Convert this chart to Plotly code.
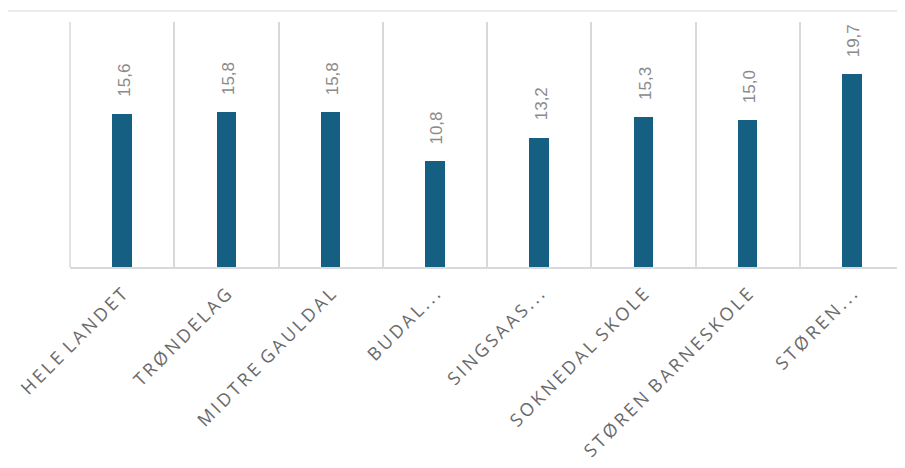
import plotly.graph_objects as go

categories = ["HELE LANDET", "TRØNDELAG", "MIDTRE GAULDAL", "BUDAL...", "SINGSAAS...",
              "SOKNEDAL SKOLE", "STØREN BARNESKOLE", "STØREN..."]
values = [15.6, 15.8, 15.8, 10.8, 13.2, 15.3, 15.0, 19.7]
value_labels = ["15,6", "15,8", "15,8", "10,8", "13,2", "15,3", "15,0", "19,7"]


def spaced(s):
    sep = "\u2009"
    words = [sep.join(list(w)) for w in s.split(" ")]
    return ("\u2009 ").join(words)


tick_text = [spaced(c) for c in categories]

fig = go.Figure()
fig.add_trace(go.Bar(
    x=categories, y=values, marker_color="#156082", width=0.185,
    marker_line_width=0, hoverinfo="skip",
))

for c, v, t in zip(categories, values, value_labels):
    fig.add_annotation(x=c, y=v, text=t, textangle=-90, showarrow=False,
                       yanchor="bottom", xanchor="center", yshift=15, xshift=2,
                       font=dict(family="Liberation Sans, Arial", size=17, color="#8a8a8a"))

# edge gridlines
for xp in (0, 1):
    fig.add_shape(type="line", xref="paper", yref="paper", x0=xp, x1=xp, y0=0, y1=1,
                  line=dict(color="#d9d9d9", width=1.5), layer="below")

# outer chart border (left and top)
bx = -63 / 834
by = 1 + 11 / 245
fig.add_shape(type="line", xref="paper", yref="paper",
              x0=bx, x1=bx, y0=-1, y1=by,
              line=dict(color="#d9d9d9", width=1))
fig.add_shape(type="line", xref="paper", yref="paper",
              x0=bx, x1=1.05, y0=by, y1=by,
              line=dict(color="#d9d9d9", width=1))

fig.update_layout(
    width=905, height=468,
    margin=dict(l=62, r=9, t=14, b=209, autoexpand=False),
    plot_bgcolor="white", paper_bgcolor="white",
    showlegend=False, bargap=0,
    xaxis=dict(
        tickmode="array", tickvals=categories, ticktext=tick_text,
        tickangle=-45, tickson="boundaries", showgrid=True,
        gridcolor="#d9d9d9", gridwidth=1.5, automargin=False,
        showline=True, linecolor="#d9d9d9", linewidth=1.5,
        ticks="", ticklabelstandoff=8,
        tickfont=dict(family="Open Sans", size=18, color="#6a6a6a"),
    ),
    yaxis=dict(range=[0, 25], visible=False, showgrid=False, zeroline=False),
)

fig.write_html("out.html")
